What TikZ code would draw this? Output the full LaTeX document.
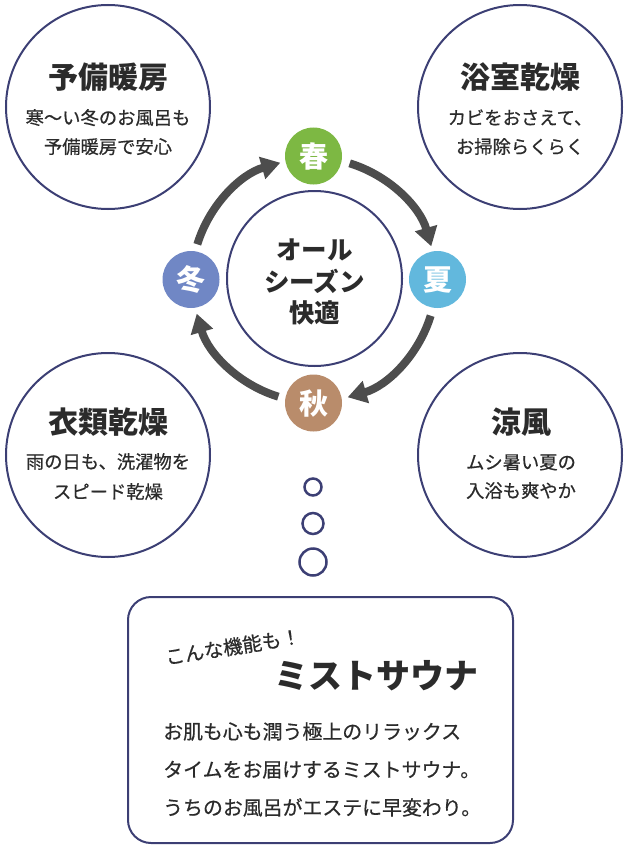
\documentclass[tikz,border=0pt]{standalone}
\usepackage{fontspec}
\setmainfont{Noto Sans CJK JP}
\newfontfamily\medfont[FakeBold=0.6]{Noto Sans CJK JP}
\usetikzlibrary{arrows.meta}
\definecolor{navy}{HTML}{3C3F74}
\definecolor{txt}{HTML}{2B2B2B}
\definecolor{arr}{HTML}{4D4D4D}
\definecolor{spring}{HTML}{7DB843}
\definecolor{summer}{HTML}{62B8DD}
\definecolor{autumn}{HTML}{B98C6B}
\definecolor{winter}{HTML}{7087C5}
\newcommand{\fs}[1]{\fontsize{#1pt}{#1pt}\selectfont}
\begin{document}
\begin{tikzpicture}[x=1pt,y=1pt,
  bigcirc/.style={circle,draw=navy,line width=2pt,minimum size=204pt,inner sep=0pt},
  seasonc/.style={circle,fill=#1,minimum size=57pt,inner sep=0pt},
  seasont/.style={anchor=base,text=white,font=\fs{29}\bfseries,inner sep=0pt},
  titlet/.style={anchor=base,text=txt,font=\fs{30}\bfseries,inner sep=0pt},
  subt/.style={anchor=base,text=txt,font=\fs{18.3}\medfont,inner sep=0pt},
  centert/.style={anchor=base,text=txt,font=\fs{25.5}\bfseries,inner sep=0pt},
  bodyt/.style={anchor=base west,text=txt,font=\fs{19.9}\medfont,inner sep=0pt},
  cyc/.style={draw=arr,line width=8pt,-{Triangle[width=22pt,length=19pt]}},
  dot/.style={circle,draw=navy,line width=2.5pt,inner sep=0pt}
]
\useasboundingbox (0,0) rectangle (630,-856);

% big circles
\node[bigcirc] (tl) at (108,-107) {};
\node[bigcirc] (tr) at (520,-107) {};
\node[bigcirc] (bl) at (108,-455) {};
\node[bigcirc] (br) at (520,-455) {};
\node[circle,draw=navy,line width=2pt,minimum size=175pt,inner sep=0pt] (mid) at (314.5,-278.5) {};

% texts in big circles
\node[titlet] (tlt) at (108,-88.5) {予備暖房};
\node[subt] (tls1) at (108,-124.5) {寒〜い冬のお風呂も};
\node[subt] (tls2) at (108,-153.5) {予備暖房で安心};
\node[titlet] (trt) at (520,-88.5) {浴室乾燥};
\node[subt] (trs1) at (520,-124.5) {カビをおさえて、};
\node[subt] (trs2) at (520,-153.5) {お掃除らくらく};
\node[titlet] (blt) at (108,-433.5) {衣類乾燥};
\node[subt] (bls1) at (108,-468.5) {雨の日も、洗濯物を};
\node[subt] (bls2) at (108,-498.5) {スピード乾燥};
\node[titlet] (brt) at (521,-433.5) {涼風};
\node[subt] (brs1) at (521,-469) {ムシ暑い夏の};
\node[subt] (brs2) at (521,-497.5) {入浴も爽やか};

% centre text
\node[centert] (c1) at (314.5,-259.5) {オール};
\node[centert] (c2) at (314.5,-291.5) {シーズン};
\node[centert] (c3) at (314.5,-322.5) {快適};

% cycle arrows
\coordinate (cc) at (314,-280);
\draw[cyc] ([shift={(73:122)}]cc) arc[start angle=73,end angle=16,radius=122];
\draw[cyc] ([shift={(-17:122)}]cc) arc[start angle=-17,end angle=-74,radius=122];
\draw[cyc] ([shift={(-107:122)}]cc) arc[start angle=-107,end angle=-164,radius=122];
\draw[cyc] ([shift={(163:122)}]cc) arc[start angle=163,end angle=106,radius=122];

% season circles
\node[seasonc=spring] (spr) at (313.5,-156) {};
\node[seasonc=summer] (sum) at (437.5,-279.5) {};
\node[seasonc=autumn] (aut) at (313.5,-403) {};
\node[seasonc=winter] (win) at (191,-279.5) {};
\node[seasont] (sprt) at (313.5,-167) {春};
\node[seasont] (sumt) at (437.5,-290.5) {夏};
\node[seasont] (autt) at (313.5,-414) {秋};
\node[seasont] (wint) at (191,-290.5) {冬};

% dots
\node[dot,minimum size=17pt] (d1) at (313,-487) {};
\node[dot,minimum size=21pt] (d2) at (313,-523.5) {};
\node[dot,minimum size=27pt] (d3) at (313,-562) {};

% bottom box
\draw[navy,line width=2pt,rounded corners=23pt] (128,-597) rectangle (513,-843);
\node[anchor=base,text=txt,font=\fs{19.5}\medfont,rotate=9,inner sep=0pt] (kon) at (234,-654) {こんな機能も！};
\node[anchor=base,text=txt,font=\fs{34}\bfseries,inner sep=0pt] (mist) at (376,-688) {ミストサウナ};
\node[bodyt] (b1) at (163,-739) {お肌も心も潤う極上のリラックス};
\node[bodyt] (b2) at (163,-777) {タイムをお届けするミストサウナ。};
\node[bodyt] (b3) at (163,-815) {うちのお風呂がエステに早変わり。};
\end{tikzpicture}
\end{document}
